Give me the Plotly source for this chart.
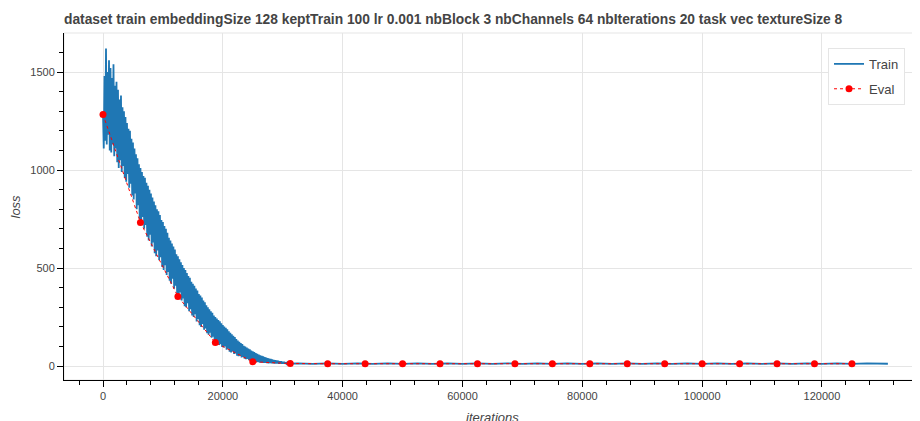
import plotly.graph_objects as go

# ---- data ----
train_step = 125
train_dense = [
    1290, 1110, 1480, 1150, 1620, 1130, 1500, 1180, 1560, 1100,
    1520, 1090, 1470, 1130, 1540, 1070, 1430, 1110, 1450, 1040,
    1410, 1010, 1360, 1050, 1380, 990, 1320, 1020, 1300, 960,
    1270, 940, 1240, 980, 1210, 910, 1200, 930, 1160, 870,
    1140, 850, 1110, 880, 1080, 800, 1060, 820, 1030, 750,
    1010, 730, 990, 760, 970, 700, 960, 720, 935, 660,
    920, 640, 900, 670, 880, 610, 860, 630, 840, 575,
    820, 560, 800, 590, 790, 540, 770, 555, 745, 505,
    735, 490, 715, 515, 700, 465, 680, 480, 655, 435,
    640, 420, 625, 445, 610, 395, 595, 410, 570, 365,
    560, 355, 545, 375, 530, 335, 515, 345, 500, 305,
    490, 300, 475, 320, 460, 280, 450, 290, 430, 258,
    420, 250, 410, 265, 395, 228, 385, 240, 368, 208,
    360, 200, 350, 215, 335, 185, 325, 192, 310, 168,
    300, 160, 290, 170, 280, 145, 272, 150, 258, 128,
    250, 120, 242, 128, 235, 108, 228, 112, 218, 98,
    210, 95, 202, 100, 195, 84, 188, 88, 178, 73,
    170, 70, 162, 75, 155, 62, 148, 65, 138, 53,
    130, 50, 124, 53, 118, 44, 112, 46, 104, 38,
    100, 35, 95, 37, 90, 30, 86, 31, 79, 24,
    75, 22, 71, 24, 67, 20, 63, 21, 58, 18,
    55, 17, 52, 18, 49, 16, 46, 16, 43, 15,
    40, 14, 38, 15, 36, 14, 34, 14, 32, 13,
    30, 13, 28, 13, 27, 12, 25, 13, 24, 12,
    22, 12, 21, 12, 19, 12, 18, 12, 17, 12,
]
train_tail_iters = [
    32500, 35000, 37500, 40000, 42500, 45000, 47500, 50000, 52500, 55000,
    57500, 60000, 62500, 65000, 67500, 70000, 72500, 75000, 77500, 80000,
    82500, 85000, 87500, 90000, 92500, 95000, 97500, 100000, 102500, 105000,
    107500, 110000, 112500, 115000, 117500, 120000, 122500, 125000, 127500, 131000,
]
train_tail = [
    14, 11, 14, 11, 14, 11, 14, 11, 14, 11,
    14, 11, 14, 11, 14, 11, 14, 11, 14, 11,
    14, 11, 14, 11, 14, 11, 14, 11, 14, 11,
    14, 11, 14, 11, 14, 11, 14, 11, 14, 12,
]
train_iters = [i * train_step for i in range(len(train_dense))] + train_tail_iters
train_loss = train_dense + train_tail

eval_iters = [
    0, 6250, 12500, 18750, 25000, 31250, 37500, 43750, 50000, 56250, 62500,
    68750, 75000, 81250, 87500, 93750, 100000, 106250, 112500, 118750, 125000,
]
eval_loss = [
    1283, 733, 355, 120, 22, 13, 12, 12, 12, 12, 12,
    12, 12, 12, 12, 12, 12, 12, 12, 12, 12,
]

title_text = ("dataset train embeddingSize 128 keptTrain 100 lr 0.001 nbBlock 3 "
              "nbChannels 64 nbIterations 20 task vec textureSize 8")

FONT = "Helvetica, Arial, Liberation Sans, sans-serif"
GRID = "#e5e5e5"
TXT = "#444444"

# page body has an 8px margin, so the figure is drawn 8px smaller and offset
W, H = 912, 413

fig = go.Figure()
fig.add_trace(go.Scatter(
    x=train_iters, y=train_loss, mode="lines", name="Train", legendgroup="train",
    line=dict(color="#1f77b4", width=1.8),
))
fig.add_trace(go.Scatter(
    x=eval_iters, y=eval_loss, mode="lines+markers", name="Eval", legendgroup="eval",
    line=dict(color="red", width=1, dash="3px,3px"),
    marker=dict(color="red", size=7),
))

fig.update_layout(
    width=W, height=H,
    margin=dict(l=56, r=0, t=25, b=41),
    paper_bgcolor="white", plot_bgcolor="white",
    font=dict(family=FONT, size=11, color=TXT),
    showlegend=True,
    title=dict(text="<b>" + title_text + "</b>", xref="container", yref="container",
               x=56 / W, xanchor="left", y=1 - 11 / H, yanchor="middle",
               pad=dict(l=0, r=0, t=0, b=0),
               font=dict(family=FONT, size=13.8, color=TXT)),
    legend=dict(x=0.9825, xanchor="right", y=0.957, yanchor="top",
                bgcolor="white", bordercolor=GRID, borderwidth=1,
                tracegroupgap=5,
                font=dict(family=FONT, size=13, color=TXT)),
    xaxis=dict(range=[-6510, 136360], tickvals=[0, 20000, 40000, 60000, 80000, 100000, 120000],
               ticktext=["0", "20000", "40000", "60000", "80000", "100000", "120000"],
               showgrid=True, gridcolor=GRID, zeroline=False,
               showline=True, linecolor="black", linewidth=1,
               ticks="outside", ticklen=6, tickcolor="black",
               minor=dict(ticks="outside", ticklen=4, tickcolor="black", dtick=4000, tick0=0, showgrid=False),
               tickfont=dict(size=11, color=TXT)),
    yaxis=dict(range=[-71, 1699], tickvals=[0, 500, 1000, 1500],
               showgrid=True, gridcolor=GRID, zeroline=False,
               showline=True, linecolor="black", linewidth=1,
               ticks="outside", ticklen=6, tickcolor="black",
               minor=dict(ticks="outside", ticklen=4, tickcolor="black", dtick=100, tick0=0, showgrid=False),
               tickfont=dict(size=11, color=TXT)),
    shapes=[dict(type="rect", xref="paper", yref="paper", x0=0, x1=1, y0=0, y1=1,
                 line=dict(color=GRID, width=1), layer="below")],
    annotations=[
        dict(text="<i>loss</i>", xref="paper", yref="paper", x=0, y=0.5,
             xanchor="center", yanchor="middle", xshift=-49, textangle=-90,
             showarrow=False, font=dict(family=FONT, size=13, color=TXT)),
        dict(text="<i>iterations</i>", xref="paper", yref="paper", x=0.5, y=0,
             xanchor="center", yanchor="middle", yshift=-37,
             showarrow=False, font=dict(family=FONT, size=13, color=TXT)),
    ],
)

fig.write_html("out.html", config={"displayModeBar": False})
